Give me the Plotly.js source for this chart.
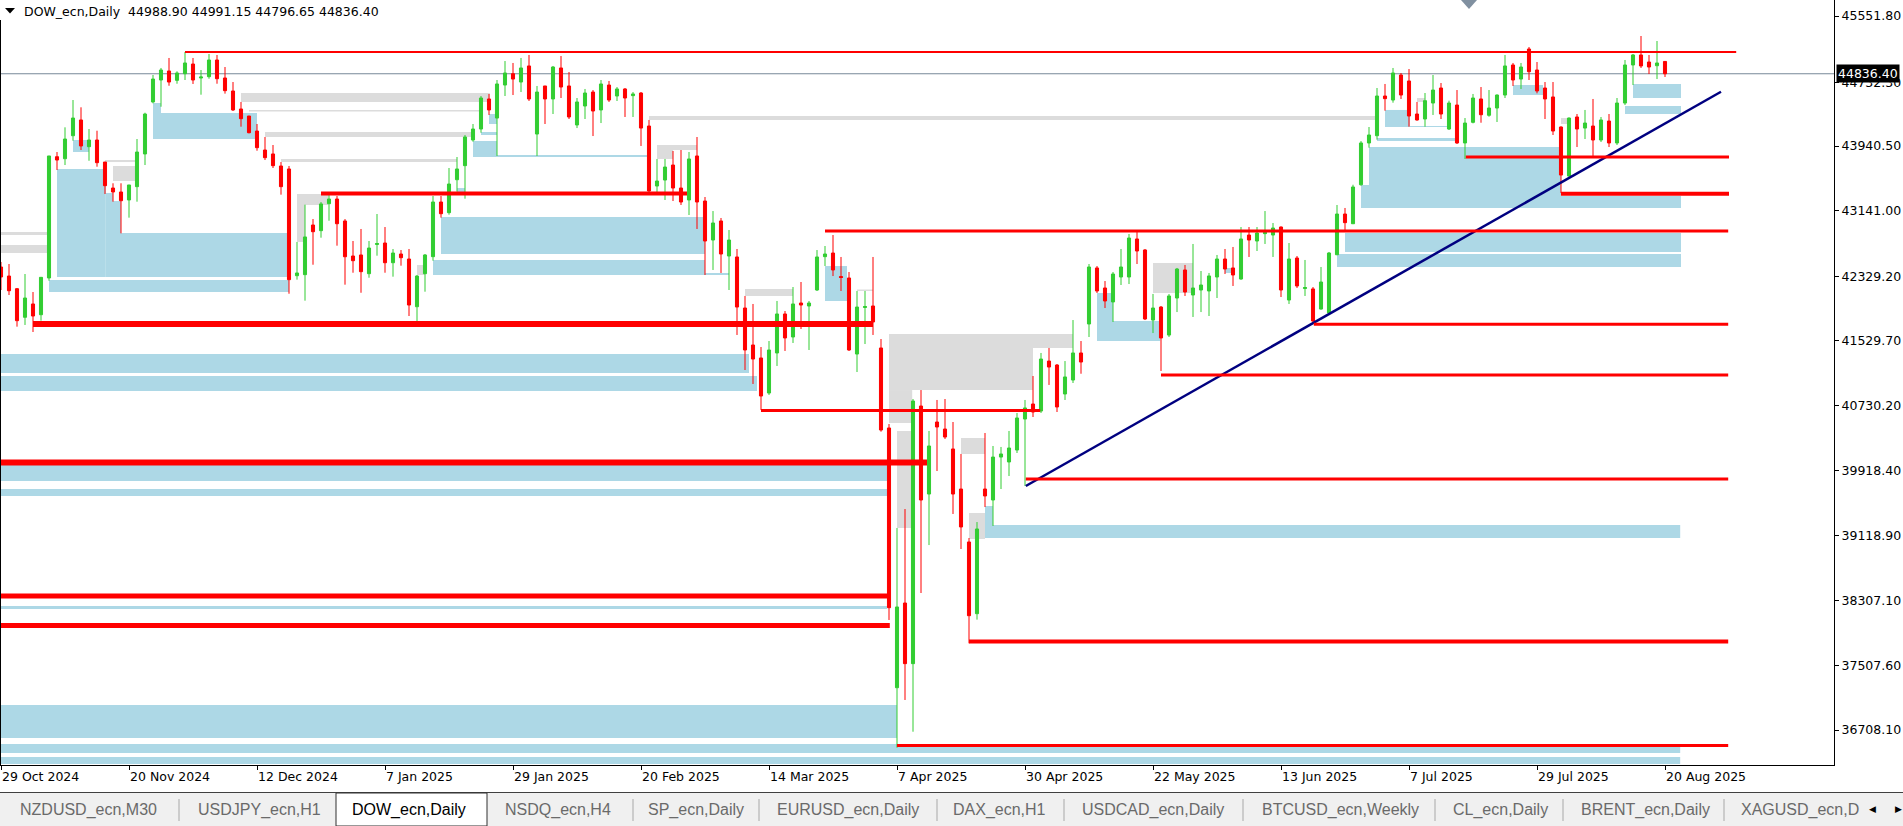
<!DOCTYPE html>
<html><head><meta charset="utf-8">
<script src="https://cdn.plot.ly/plotly-3.0.1.min.js"></script>
<style>html,body{margin:0;padding:0;background:#fff;overflow:hidden}#chart{width:1903px;height:826px}</style>
</head><body><div id="chart"></div>
<script>
const symbolName = 'DOW_ecn,Daily';
const openP = [42443,42331,42174,41820,41985,41852,42307,43809,43784,44069,
44264,43933,44016,43743,43421,43372,43273,43438,43843,44487,
44759,44871,44755,44837,44957,44784,44800,45007,44784,44623,
44400,44313,44127,43892,43843,43694,43657,42335,42348,42963,
42893,43227,43285,43013,42579,42592,42360,42722,42740,42496,
42604,42542,41951,42360,42571,43248,43116,43524,43698,44016,
44152,44524,44288,44697,44837,44734,44933,44090,44685,44524,
44908,44685,44202,44437,44610,44388,44697,44561,44648,44565,
44598,44189,43446,43520,43706,43421,43273,43818,43260,42777,
43013,42579,42567,41935,41477,41316,40882,41378,41861,41576,
41997,41960,42158,42571,42616,42325,42307,41365,41941,41960,
41440,40449,37232,38281,37530,40721,39631,40523,40436,40189,
39693,39037,38149,39693,39557,40089,40028,40176,40560,40746,
40659,41278,41229,40870,41043,41378,41737,42431,42183,42010,
42319,42319,42790,42654,41786,41947,41600,42059,42406,42096,
42158,42146,42319,42542,42431,42294,42839,42765,42856,42839,
42938,42034,42554,42176,42171,41922,41873,42595,43099,42979,
43462,43979,44069,44561,44511,44821,44747,44338,44276,44474,
44660,44152,44449,43979,44235,44524,44322,44412,44573,44945,
44771,45143,44883,44660,44549,44177,43570,44301,44164,44189,
44016,44251,43979,44474,44945,45069,44982,44936,44988.90];
const highP = [42505,42480,42183,42356,42133,42319,43818,43867,44173,44511,
44421,44152,44131,43743,43480,43480,43459,44028,44354,44821,
44908,45032,44867,45106,45032,44883,45081,45069,44920,44734,
44487,44313,44214,44053,43954,43743,43694,42753,43215,43037,
43248,43360,43322,43037,42765,42914,42765,43099,42938,42666,
42653,42666,42344,42604,43322,43322,43669,43805,44078,44214,
44561,44586,44759,44994,44970,45032,45069,44685,44685,44933,
45056,44858,44536,44648,44635,44759,44747,44672,44660,44610,
44610,44264,43781,43781,43880,43892,43867,44053,43310,43136,
43050,42901,42666,42084,41985,41452,41526,42022,41898,42195,
42257,42022,42653,42703,42839,42567,42381,42146,42146,42567,
41551,40498,39210,39445,40808,40919,40412,40796,40808,40523,
40127,39086,39284,40387,40226,40214,40412,40635,40796,41093,
41378,41440,41241,41278,41786,41526,42480,42455,42269,42381,
42666,42852,42876,42666,42109,41960,42109,42431,42468,42728,
42393,42369,42592,42666,42691,42938,42938,42938,43136,42988,
42945,42740,42579,42530,42195,42443,42629,43211,43174,43462,
44003,44177,44660,44710,44908,44846,44895,44487,44598,44821,
44722,44503,44635,44288,44586,44672,44635,44580,45069,44970,
44970,45168,44982,44734,44734,44185,44295,44338,44388,44524,
44301,44338,44536,45007,45081,45304,45069,45242,44991.15];
const lowP = [42158,42096,41704,41725,41638,41778,42273,43644,43706,44007,
43892,43759,43685,43347,43252,42860,43054,43252,43706,44470,
44428,44688,44713,44759,44710,44577,44775,44713,44590,44375,
44181,44099,43883,43768,43669,43339,42112,42286,42026,42471,
42806,43016,42707,42224,42372,42124,42310,42583,42372,42323,
42459,41836,41725,42137,42521,43054,43091,43376,43289,43995,
44106,44326,43818,44561,44573,44610,44499,43818,44214,44338,
44536,44276,44164,44276,44065,44226,44487,44499,44301,44301,
43942,43363,43347,43273,43260,43211,43087,42914,42344,42406,
42369,42158,41601,41167,40994,40672,40858,41217,41403,41502,
41675,41415,42146,42455,42331,42146,41403,41142,41489,41601,
40403,38071,36489,37080,36687,38405,38999,39916,40312,39384,
38950,37782,38075,39470,39235,39693,39854,40139,39730,40585,
40635,40982,40647,40796,41006,41121,41576,42121,41935,41762,
42220,42232,42480,41786,41625,41155,41576,41885,42084,41824,
41885,41836,42059,42356,42208,42285,42567,42641,42728,42567,
42071,41985,42183,42084,41749,41915,41861,42590,42893,42975,
43450,43921,44020,44379,44478,44524,44181,44255,44181,44326,
44276,44140,43967,43781,44222,44230,44304,44239,44536,44685,
44648,44759,44594,44276,44078,43359,43565,43929,44028,43818,
43991,43929,43954,44449,44697,44908,44833,44771,44796.65];
const closeP = [42319,42149,41778,42059,41836,42315,43818,43768,44028,44288,
43942,44016,43735,43450,43372,43264,43459,43867,44338,44771,
44883,44734,44846,44970,44759,44796,45007,44775,44627,44388,
44280,44106,43921,43797,43698,43438,42286,42369,42815,42880,
43224,43285,42979,42570,42521,42385,42678,42734,42496,42616,
42558,41972,42331,42592,43248,43103,43471,43657,44053,44152,
44536,44388,44710,44846,44771,44908,44524,44610,44524,44920,
44672,44301,44487,44598,44375,44710,44511,44648,44536,44586,
44164,43384,43508,43681,43421,43248,43781,43248,42765,42988,
42604,42777,41947,41415,41303,40845,41415,41861,41564,41985,
41972,41997,42567,42604,42406,42313,41415,41947,41953,41762,
40424,38223,38232,37530,40783,39557,40226,40461,40337,39631,
39223,38124,39198,39607,40089,40127,40201,40573,40697,40647,
41303,41204,40709,41081,41378,41266,42443,42146,42022,42356,
42443,42802,42641,41799,41935,41564,42084,42418,42133,42183,
42220,42332,42542,42418,42344,42790,42777,42864,42873,42926,
42158,42542,42208,42189,41774,42257,42616,43099,42992,43434,
43979,44078,44561,44528,44846,44573,44313,44264,44503,44635,
44338,44474,43979,44226,44536,44329,44412,44573,44933,44759,
44920,44862,44623,44524,44127,43582,44288,44152,44226,44016,
44264,43979,44474,44945,45069,44933,44920,44970,44836.40];

const tickIdx = [0,16,32,48,64,80,96,112,128,144,160,176,192,208];
const tickDates = ['29 Oct 2024','20 Nov 2024','12 Dec 2024','7 Jan 2025','29 Jan 2025','20 Feb 2025','14 Mar 2025','7 Apr 2025','30 Apr 2025','22 May 2025','13 Jun 2025','7 Jul 2025','29 Jul 2025','20 Aug 2025'];
const priceTicks = [45551.80,44732.30,43940.50,43141.00,42329.20,41529.70,40730.20,39918.40,39118.90,38307.10,37507.60,36708.10];

// support / resistance levels: [fromBar, toBar, price, weight]
const redLines = [
 [23,216.9,45106,2],[40,85.75,43353,4],[4,109,41737,6],[95,129.9,40665,3],
 [-1,115.75,40021,6],[-1,111.1,38368,5],[-1,111.1,38003,5],[121,215.9,37805,4],
 [112,215.9,36516,3],[128.1,215.9,39817,3],[145,215.9,41105,3],[103,215.9,42889,3],
 [164.1,215.9,41733,3],[183.1,216,43805,3],[195,216,43351,4]
];
// zones: [fromBar, toBar, top, bottom]
const blueZones = [
 [7,13.1,43657,42319],[13.1,14,43360,42319],[14,15,43260,42319],[15,35.75,42864,42319],
 [6,36,42282,42133],[9,11,44016,43867],[19,20,44474,44028],[20,32,44350,44028],
 [59,62,44004,43805],[60,62,44115,44078],[61,62,44338,44214],[62,80.75,43830,43805],
 [57,58,43421,43372],[55,88,43062,42604],[54,88,42530,42344],[88,91,42369,42344],
 [103,105.75,42455,42022],[-1,93.5,41365,41130],[-1,94.5,41093,40907],[-1,110.75,39990,39792],
 [-1,110.75,39693,39607],[-1,110.75,38244,38207],[-1,112,37018,36609],[-1,209.9,36535,36423],
 [-1,209.9,36374,36287],[123,209.9,39247,39086],[123,124,39483,39247],[137,144.9,41774,41526],
 [137,139,42121,41774],[153,153.9,42431,42369],[167,210,42604,42443],[168,210,42864,42629],
 [170,210,43322,43174],[170,195,43459,43322],[171,195,43929,43459],[172,182,44041,44004],
 [173,176.1,44388,44177],[176.1,180.75,44189,44177],[189,192.75,44697,44573],[204,210,44710,44536],
 [203,210,44437,44338]
];
const grayZones = [
 [-1,5.75,42876,42839],[-1,5.75,42715,42616],[13,16.75,43768,43743],[14,16.75,43694,43508],
 [30,61.1,44598,44487],[31,59.9,44388,44369],[33,59,44115,44053],[35,57,43781,43743],
 [37,40.9,43347,43211],[37,38,43211,42753],[52,53,42468,42344],[81,171.75,44313,44264],
 [82,87,43954,43892],[82,84,43892,43781],[93,99,42170,42084],[107,109,42164,42146],
 [111,134,41613,41440],[111,129,41440,40919],[111,113.9,40919,40511],[112,113.75,40412,39210],
 [120,123,40325,40127],[121,123,39396,39074],[144,149,42492,42121],[177,178,44536,44487],
 [195,195.75,44288,44214]
];
const trendX = [128.1, 215];
const trendY = [39730, 44614];
const tabNames = ['NZDUSD_ecn,M30','USDJPY_ecn,H1','DOW_ecn,Daily','NSDQ_ecn,H4','SP_ecn,Daily','EURUSD_ecn,Daily','DAX_ecn,H1','USDCAD_ecn,Daily','BTCUSD_ecn,Weekly','CL_ecn,Daily','BRENT_ecn,Daily','XAGUSD_ecn,D'];
const activeTab = 2;

// ---- layout constants (pixels) ----
const W = 1903, H = 826, PW = 1834, PH = 765;
const tabTextX = [18,196,350,503,646,775,951,1080,1260,1451,1579,1739];
const tabSepX = [179,633,759,937,1064,1243,1435,1563,1724];
const activeTabX = [336,487];
const fx = p => p / PW;
const fy = p => (PH - p) / PH;

const shapes = [];
blueZones.forEach(z => shapes.push({type:'rect', xref:'x', yref:'y', x0:z[0], x1:z[1], y0:z[2], y1:z[3], fillcolor:'#ADD8E6', line:{width:0}, layer:'below'}));
grayZones.forEach(z => shapes.push({type:'rect', xref:'x', yref:'y', x0:z[0], x1:z[1], y0:z[2], y1:z[3], fillcolor:'#DCDCDC', line:{width:0}, layer:'below'}));
const lastClose = closeP[closeP.length-1];
shapes.push({type:'line', xref:'paper', yref:'y', x0:0, x1:1, y0:lastClose, y1:lastClose, line:{color:'#778899', width:1}, layer:'below'});
redLines.forEach(l => shapes.push({type:'line', xref:'x', yref:'y', x0:l[0], x1:l[1], y0:l[2], y1:l[2], line:{color:'#FF0000', width:l[3]}, layer:'above'}));
// left border
shapes.push({type:'line', xref:'paper', yref:'paper', x0:fx(0.5), x1:fx(0.5), y0:fy(20), y1:0, line:{color:'#000', width:1}});
// title triangle
shapes.push({type:'path', xref:'paper', yref:'paper', path:`M ${fx(5)},${fy(8)} L ${fx(15)},${fy(8)} L ${fx(10)},${fy(13.5)} Z`, fillcolor:'#000', line:{width:0}});
// chart shift marker
shapes.push({type:'path', xref:'paper', yref:'paper', path:`M ${fx(1461)},${fy(0)} L ${fx(1477)},${fy(0)} L ${fx(1469)},${fy(9)} Z`, fillcolor:'#8090A0', line:{width:0}});
// tab bar
shapes.push({type:'rect', xref:'paper', yref:'paper', x0:0, x1:fx(W), y0:fy(793), y1:fy(H), fillcolor:'#F0F0F0', line:{width:0}});
shapes.push({type:'line', xref:'paper', yref:'paper', x0:0, x1:fx(W), y0:fy(792.5), y1:fy(792.5), line:{color:'#404040', width:1}});
shapes.push({type:'rect', xref:'paper', yref:'paper', x0:fx(activeTabX[0]), x1:fx(activeTabX[1]), y0:fy(793), y1:fy(H), fillcolor:'#FFFFFF', line:{color:'#303030', width:1}});
tabSepX.forEach(x => shapes.push({type:'line', xref:'paper', yref:'paper', x0:fx(x), x1:fx(x), y0:fy(799), y1:fy(821), line:{color:'#A8A8A8', width:1}}));

const fmt = v => v.toFixed(2);
const nb = '\u00A0';
const n = openP.length - 1;
const annotations = [
 {xref:'paper', yref:'paper', x:fx(22), y:fy(11.5), xanchor:'left', yanchor:'middle', showarrow:false,
  text: symbolName + nb + nb + [openP[n],highP[n],lowP[n],closeP[n]].map(fmt).join(nb),
  font:{family:'DejaVu Sans', size:12.5, color:'#000'}},
 {xref:'paper', yref:'y', x:1, y:lastClose, xanchor:'left', yanchor:'middle', xshift:2, showarrow:false,
  text: fmt(lastClose), bgcolor:'#000', borderpad:1, font:{family:'DejaVu Sans', size:12.5, color:'#FFF'}}
];
tabNames.forEach((t,k) => annotations.push({xref:'paper', yref:'paper', x:fx(tabTextX[k]), y:fy(810), xanchor:'left', yanchor:'middle', showarrow:false, text:t,
  font:{family:'Liberation Sans', size:16, color: k===activeTab ? '#000' : '#6A6A6A'}}));
annotations.push({xref:'paper', yref:'paper', x:fx(1872), y:fy(809), xanchor:'center', yanchor:'middle', showarrow:false, text:'◀', font:{family:'DejaVu Sans', size:9, color:'#000'}});
annotations.push({xref:'paper', yref:'paper', x:fx(1898), y:fy(809), xanchor:'center', yanchor:'middle', showarrow:false, text:'▶', font:{family:'DejaVu Sans', size:9, color:'#000'}});

const barIdx = openP.map((_, i) => i);
const traces = [
 {type:'candlestick', x:barIdx, open:openP, high:highP, low:lowP, close:closeP,
  increasing:{line:{color:'#32CD32', width:1}, fillcolor:'#32CD32'},
  decreasing:{line:{color:'#FF0000', width:1}, fillcolor:'#FF0000'},
  whiskerwidth:0, hoverinfo:'skip'},
 {type:'scatter', mode:'lines', x:trendX, y:trendY, line:{color:'#000080', width:2.5}, hoverinfo:'skip'}
];

const layout = {
 width:W, height:H, autosize:false, showlegend:false,
 margin:{l:0, r:W-PW, t:0, b:H-PH, pad:0},
 paper_bgcolor:'#FFFFFF', plot_bgcolor:'#FFFFFF',
 boxgap:0.45,
 xaxis:{type:'linear', range:[-0.125, 229.125], rangeslider:{visible:false}, showgrid:false, zeroline:false,
  showline:true, linecolor:'#000', linewidth:1, tickmode:'array', tickvals:tickIdx, ticktext:tickDates,
  ticks:'outside', ticklen:4, tickcolor:'#000', ticklabelposition:'outside right',
  tickfont:{family:'DejaVu Sans', size:12.5, color:'#000'}, fixedrange:true},
 yaxis:{side:'right', range:[36274.7, 45750], showgrid:false, zeroline:false, showline:true, linecolor:'#000', linewidth:1,
  tickmode:'array', tickvals:priceTicks, ticktext:priceTicks.map(fmt), ticks:'outside', ticklen:4, tickcolor:'#000',
  tickfont:{family:'DejaVu Sans', size:12.5, color:'#000'}, fixedrange:true},
 shapes:shapes, annotations:annotations
};
Plotly.newPlot('chart', traces, layout, {staticPlot:true, displayModeBar:false});
</script>
</body></html>
